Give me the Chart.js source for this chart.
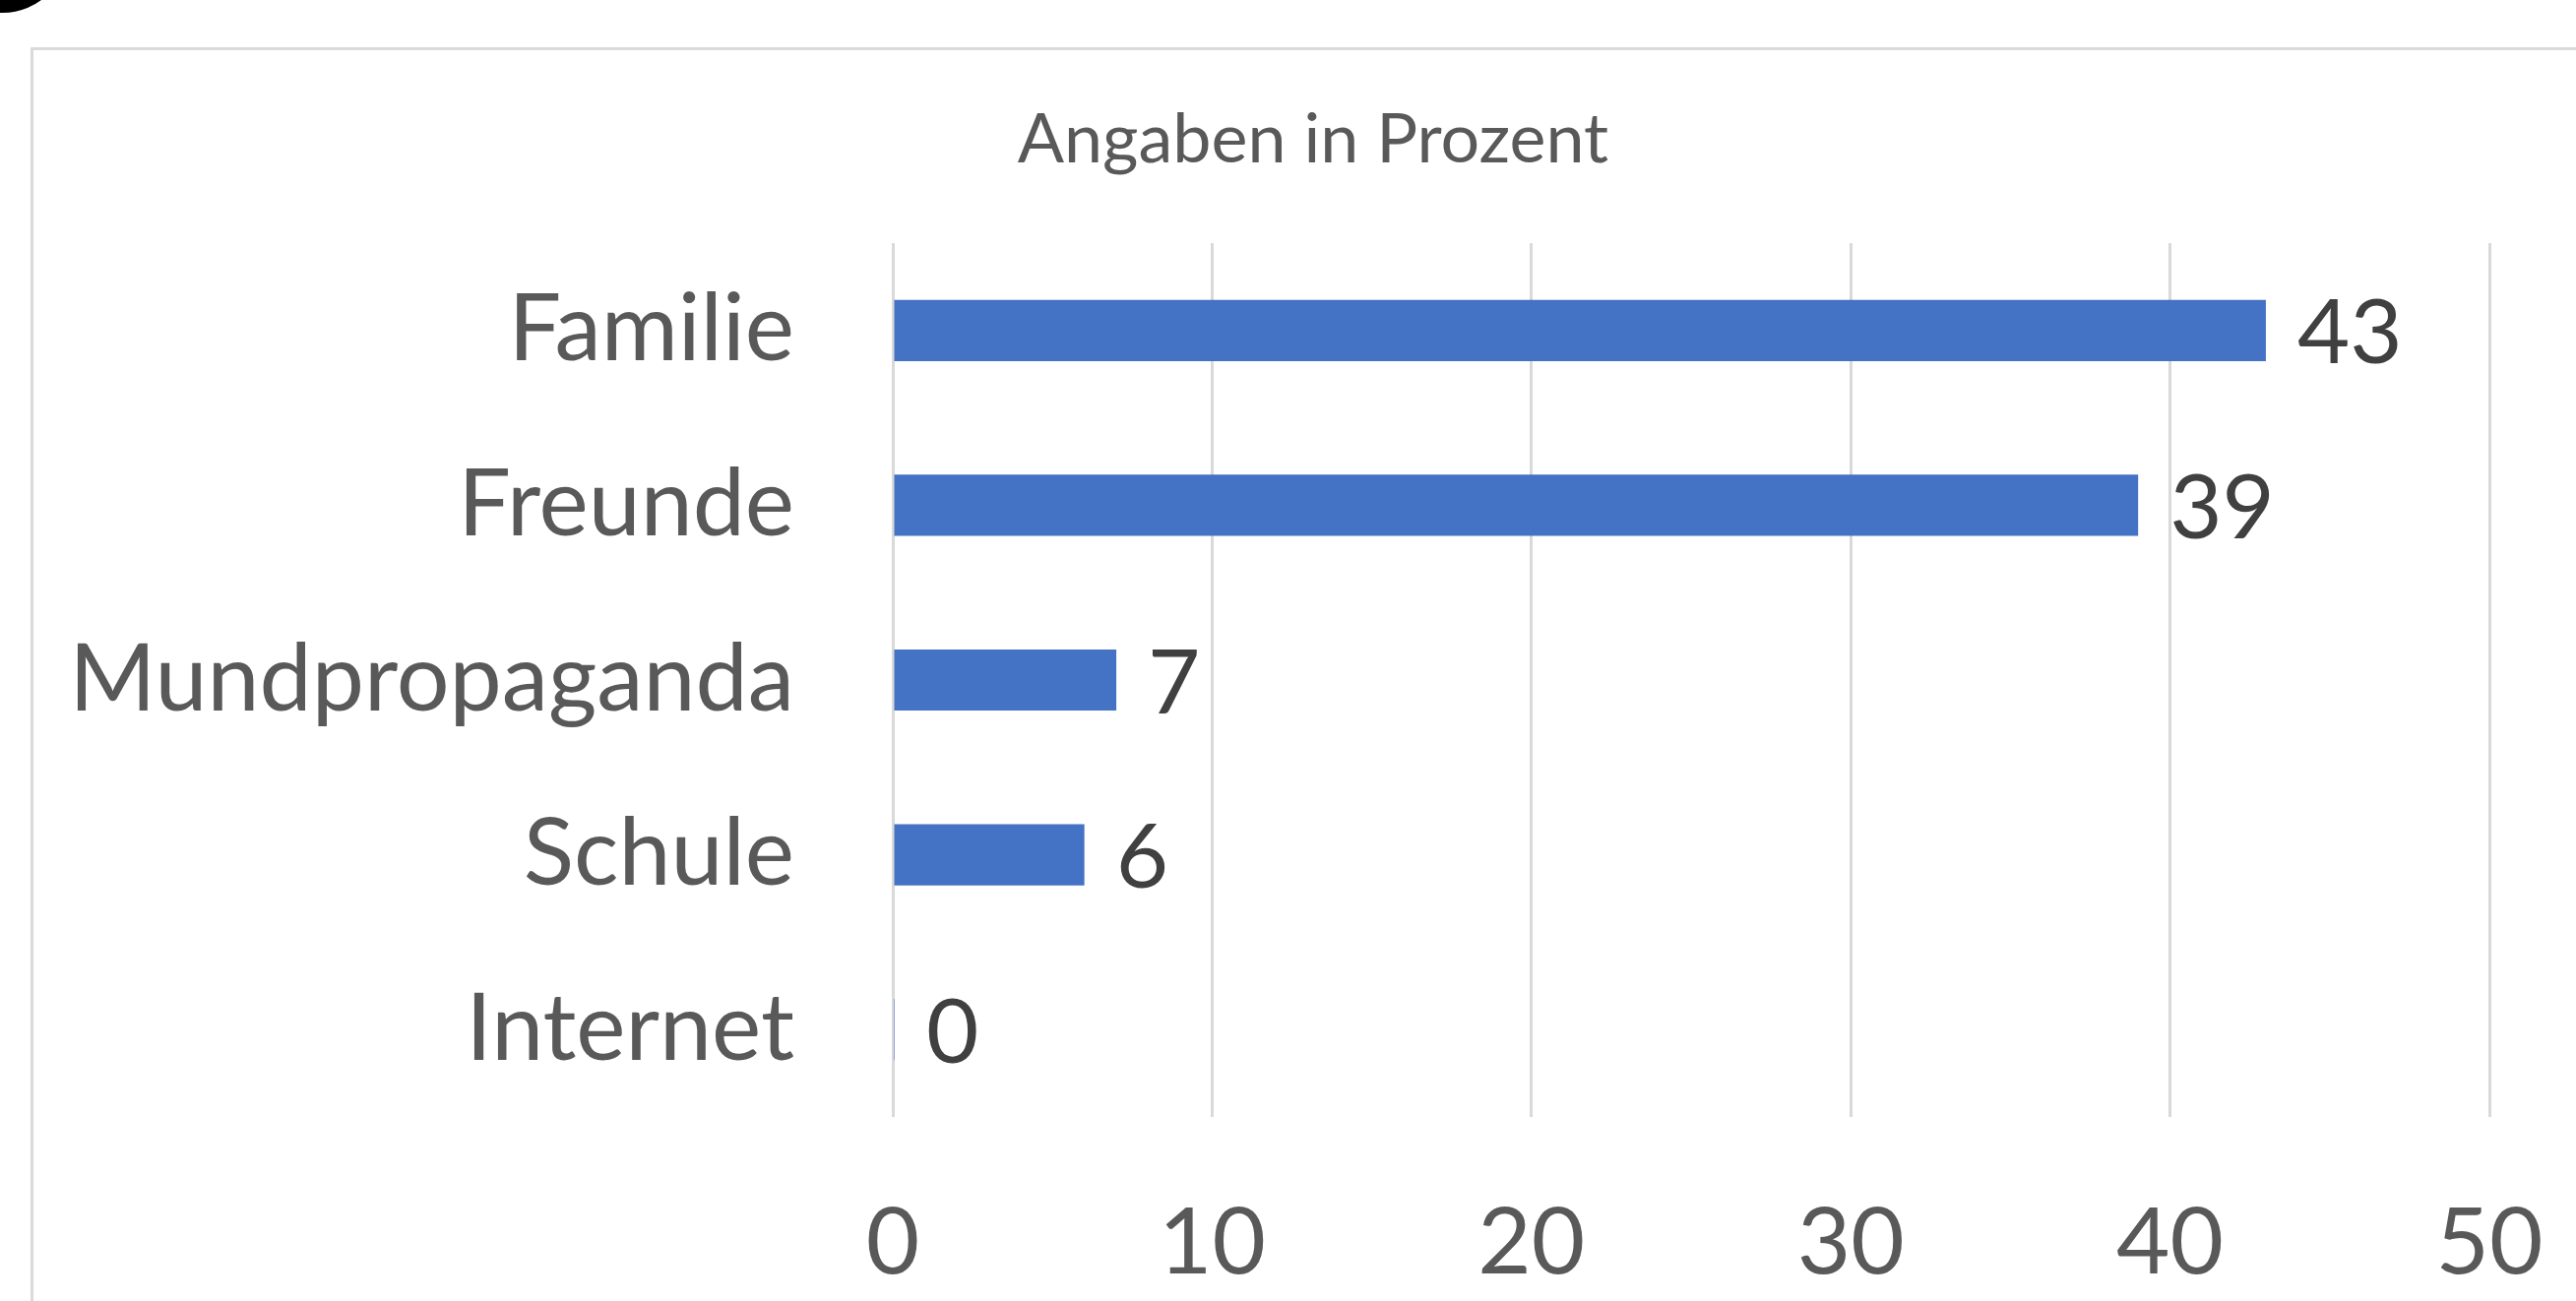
<!DOCTYPE html>
<html>
<head>
<meta charset="utf-8">
<script src="https://cdn.jsdelivr.net/npm/chart.js@4.4.0/dist/chart.umd.min.js"></script>
<style>
  html, body { margin: 0; padding: 0; background: #fff; width: 2617px; height: 1322px; overflow: hidden; position: relative; }
  .badge { position: absolute; left: -62px; top: -117px; width: 130px; height: 130px; border-radius: 50%; background: #000; }
  .frame { position: absolute; left: 31px; top: 48px; width: 2640px; height: 1400px; border: 3px solid #dadada; box-sizing: border-box; }
  .chart-box { position: absolute; left: 33px; top: 50px; width: 2640px; height: 1272px; }
</style>
</head>
<body>
<div class="badge"></div>
<div class="frame"></div>
<div class="chart-box"><canvas id="sourceChart" width="2640" height="1272"></canvas></div>

<script>
// Woher kennen Sie uns? (Angaben in Prozent)
const sources = ['Familie', 'Freunde', 'Mundpropaganda', 'Schule', 'Internet'];
const shares = [43, 39, 7, 6, 0];
const xTicks = [0, 10, 20, 30, 40, 50];
const titleText = 'Angaben in Prozent';

const fontFamily = "Lato, 'Open Sans', sans-serif";

// the chart box runs past the right edge of the screenshot, so the title is
// centred on the whole box and not on the plot area
const chartTitle = {
  id: 'chartTitle',
  afterDraw(chart) {
    const ctx = chart.ctx;
    ctx.save();
    ctx.font = '70px ' + fontFamily;
    ctx.fillStyle = '#595959';
    ctx.textAlign = 'center';
    ctx.textBaseline = 'middle';
    ctx.fillText(titleText, 1301, 92);
    ctx.restore();
  }
};

// draws the value next to the end of each bar
const valueLabels = {
  id: 'valueLabels',
  afterDatasetsDraw(chart) {
    const ctx = chart.ctx;
    const meta = chart.getDatasetMeta(0);
    ctx.save();
    ctx.font = '92px ' + fontFamily;
    ctx.fillStyle = '#404040';
    ctx.textAlign = 'left';
    ctx.textBaseline = 'middle';
    meta.data.forEach(function (bar, i) {
      ctx.fillText(String(shares[i]), bar.x + 32, bar.y + 4);
    });
    ctx.restore();
  }
};

new Chart(document.getElementById('sourceChart'), {
  type: 'bar',
  data: {
    labels: sources,
    datasets: [{
      data: shares,
      backgroundColor: '#4472c4',
      borderWidth: 0,
      minBarLength: 2,
      categoryPercentage: 1,
      barPercentage: 0.35
    }]
  },
  options: {
    indexAxis: 'y',
    responsive: false,
    animation: false,
    layout: { padding: { left: 0, right: 144, top: 197, bottom: 0 } },
    plugins: {
      legend: { display: false },
      tooltip: { enabled: false },
      title: { display: false }
    },
    scales: {
      x: {
        min: xTicks[0],
        max: xTicks[xTicks.length - 1],
        afterFit: function (scale) { scale.height = 187; },
        ticks: {
          stepSize: xTicks[1] - xTicks[0],
          color: '#595959',
          padding: 72,
          font: { family: fontFamily, size: 94 }
        },
        grid: { color: '#d9d9d9', lineWidth: 3, drawTicks: false },
        border: { display: false }
      },
      y: {
        afterFit: function (scale) { scale.width = 874; },
        ticks: {
          color: '#595959',
          padding: 100,
          font: { family: fontFamily, size: 95 }
        },
        grid: { display: false, drawTicks: false },
        border: { display: false }
      }
    }
  },
  plugins: [chartTitle, valueLabels]
});
</script>
</body>
</html>
